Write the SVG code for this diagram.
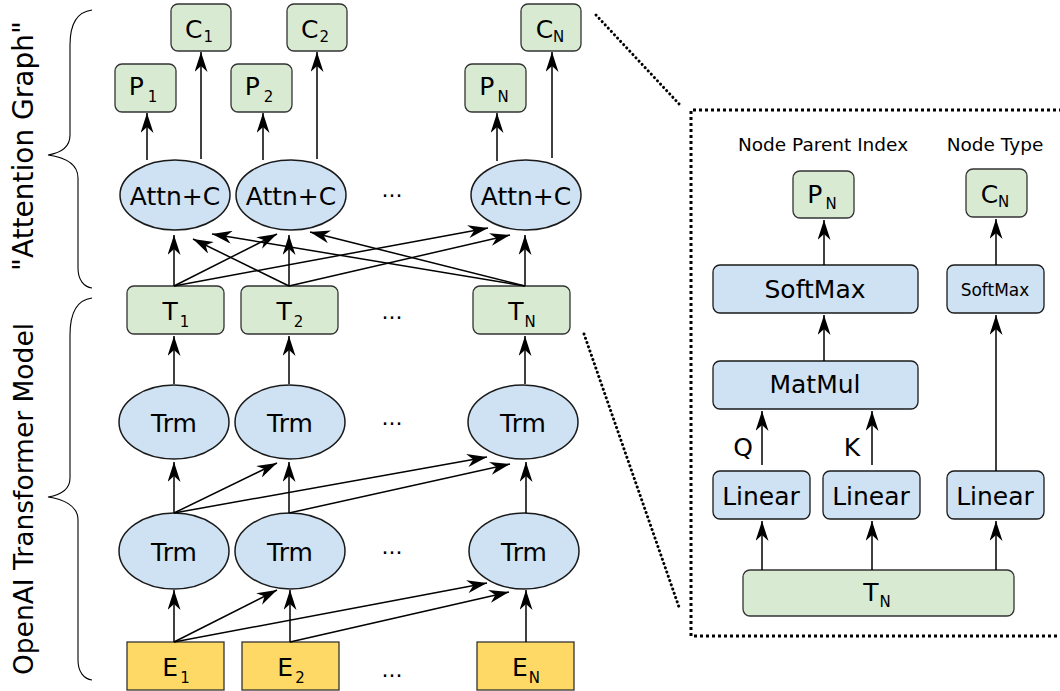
<svg xmlns="http://www.w3.org/2000/svg" width="1060" height="691" viewBox="0 0 1060 691">
<style>
.g{fill:#d9ead3;stroke:#333;stroke-width:1.3}
.b{fill:#cfe2f3;stroke:#1a1a1a;stroke-width:1.5}
.y{fill:#ffd966;stroke:#333;stroke-width:1.3}
.t{font-family:"DejaVu Sans",sans-serif;font-size:25px;fill:#000;text-anchor:middle}
.s{font-size:15px}
.h{font-size:18.5px}
.sm{font-size:17px}
.c line{stroke:#000;stroke-width:1.5;fill:none;marker-end:url(#ah)}
.br{fill:none;stroke:#000;stroke-width:1.1}
.dots{fill:none;stroke:#000;stroke-width:3;stroke-dasharray:0.1 4.4;stroke-linecap:round}
</style>
<defs>
<marker id="ah" markerUnits="userSpaceOnUse" viewBox="0 0 20 13" markerWidth="20" markerHeight="13" refX="20" refY="6.5" orient="auto">
<path d="M0,0 L20,6.5 L0,13 L6,6.5 Z" fill="#000"/>
</marker>
</defs>
<rect width="1060" height="691" fill="#fff"/>

<!-- braces and side labels -->
<g id="brace-attention">
<path class="br" d="M92,10 C76,12 70,25 70,45 L70,135 C70,148 60,153 48,155 C62,157 78,162 78,178 L78,268 C78,280 84,287 92,288"/>
<text class="t" style="font-size:28px" transform="translate(33,146) rotate(-90)">"Attention Graph"</text>
</g>
<g id="brace-openai">
<path class="br" d="M92,298 C76,300 70,315 70,335 L70,478 C70,490 60,495 48,497 C62,499 78,505 78,520 L78,660 C78,672 84,679 92,680"/>
<text class="t" style="font-size:26.5px" transform="translate(33,499) rotate(-90)">OpenAI Transformer Model</text>
</g>

<!-- outputs -->
<g id="C1"><rect class="g" x="171" y="4" width="60" height="47" rx="7"/><text class="t" x="199" y="38">C<tspan class="s" dx="1" dy="4">1</tspan></text></g>
<g id="C2"><rect class="g" x="287" y="4" width="60" height="47" rx="7"/><text class="t" x="315" y="38">C<tspan class="s" dx="1" dy="4">2</tspan></text></g>
<g id="CN"><rect class="g" x="521" y="4" width="60" height="47" rx="7"/><text class="t" x="550" y="38">C<tspan class="s" dx="0" dy="4">N</tspan></text></g>
<g id="P1"><rect class="g" x="115" y="64" width="61" height="48" rx="7"/><text class="t" x="143" y="95">P<tspan class="s" dx="4" dy="7">1</tspan></text></g>
<g id="P2"><rect class="g" x="231" y="64" width="61" height="48" rx="7"/><text class="t" x="259" y="95">P<tspan class="s" dx="4" dy="7">2</tspan></text></g>
<g id="PN"><rect class="g" x="465" y="64" width="61" height="48" rx="7"/><text class="t" x="494" y="95">P<tspan class="s" dx="3" dy="7">N</tspan></text></g>

<!-- Attn+C -->
<g id="attn1"><ellipse class="b" cx="175" cy="195" rx="55" ry="35"/><text class="t" x="175" y="205">Attn+C</text></g>
<g id="attn2"><ellipse class="b" cx="291" cy="195" rx="55" ry="35"/><text class="t" x="291" y="205">Attn+C</text></g>
<g id="attnN"><ellipse class="b" cx="526" cy="195" rx="55" ry="35"/><text class="t" x="526" y="205">Attn+C</text></g>

<!-- T -->
<g id="T1"><rect class="g" x="127" y="286" width="97" height="48" rx="7"/><text class="t" x="176" y="320">T<tspan class="s" dx="2" dy="7">1</tspan></text></g>
<g id="T2"><rect class="g" x="241" y="286" width="97" height="48" rx="7"/><text class="t" x="290" y="320">T<tspan class="s" dx="2" dy="7">2</tspan></text></g>
<g id="TN"><rect class="g" x="473" y="286" width="97" height="48" rx="7"/><text class="t" x="522" y="320">T<tspan class="s" dx="1" dy="7">N</tspan></text></g>

<!-- Trm upper -->
<g id="trmU1"><ellipse class="b" cx="174" cy="422" rx="55" ry="37"/><text class="t" x="174" y="432">Trm</text></g>
<g id="trmU2"><ellipse class="b" cx="290" cy="422" rx="55" ry="37"/><text class="t" x="290" y="432">Trm</text></g>
<g id="trmUN"><ellipse class="b" cx="523" cy="422" rx="55" ry="37"/><text class="t" x="523" y="432">Trm</text></g>

<!-- Trm lower -->
<g id="trmL1"><ellipse class="b" cx="174" cy="551" rx="55" ry="38"/><text class="t" x="174" y="561">Trm</text></g>
<g id="trmL2"><ellipse class="b" cx="290" cy="551" rx="55" ry="38"/><text class="t" x="290" y="561">Trm</text></g>
<g id="trmLN"><ellipse class="b" cx="524" cy="551" rx="55" ry="38"/><text class="t" x="524" y="561">Trm</text></g>

<!-- E -->
<g id="E1"><rect class="y" x="127" y="642" width="97" height="48"/><text class="t" x="176" y="676">E<tspan class="s" dx="2" dy="7">1</tspan></text></g>
<g id="E2"><rect class="y" x="242" y="642" width="97" height="48"/><text class="t" x="291" y="676">E<tspan class="s" dx="2" dy="7">2</tspan></text></g>
<g id="EN"><rect class="y" x="477" y="642" width="97" height="48"/><text class="t" x="526" y="676">E<tspan class="s" dx="1" dy="7">N</tspan></text></g>

<!-- ellipses dots -->
<g id="dots" class="t" style="font-size:22px">
<text x="392" y="197">...</text>
<text x="392" y="319">...</text>
<text x="392" y="425">...</text>
<text x="392" y="554">...</text>
<text x="392" y="677">...</text>
</g>

<!-- zoom guide lines and panel -->
<g id="zoom-frame">
<line class="dots" x1="596" y1="15" x2="681" y2="106"/>
<line class="dots" x1="584" y1="334" x2="680" y2="610"/>
<path d="M1062,110 L691,110 L691,636 L1062,636" fill="none" stroke="#000" stroke-width="3" stroke-dasharray="3 3"/>
</g>

<!-- right panel -->
<g id="lbl-parent"><text class="t h" x="823" y="151">Node Parent Index</text></g>
<g id="lbl-type"><text class="t h" x="995" y="151">Node Type</text></g>
<g id="rPN"><rect class="g" x="793" y="171" width="61" height="47" rx="7"/><text class="t" x="822" y="203">P<tspan class="s" dx="3" dy="6">N</tspan></text></g>
<g id="rCN"><rect class="g" x="966" y="169" width="61" height="48" rx="7"/><text class="t" x="995" y="203">C<tspan class="s" dx="0" dy="4">N</tspan></text></g>
<g id="softmax1"><rect class="b" x="713" y="265" width="205" height="48" rx="7" style="stroke-width:1.3"/><text class="t" x="815" y="298">SoftMax</text></g>
<g id="softmax2"><rect class="b" x="947" y="265" width="97" height="48" rx="7" style="stroke-width:1.3"/><text class="t sm" x="995" y="296">SoftMax</text></g>
<g id="matmul"><rect class="b" x="713" y="361" width="205" height="48" rx="7" style="stroke-width:1.3"/><text class="t" x="815" y="393">MatMul</text></g>
<g id="linQ"><rect class="b" x="713" y="471" width="97" height="48" rx="7" style="stroke-width:1.3"/><text class="t" x="761" y="505">Linear</text></g>
<g id="linK"><rect class="b" x="823" y="471" width="97" height="48" rx="7" style="stroke-width:1.3"/><text class="t" x="871" y="505">Linear</text></g>
<g id="linC"><rect class="b" x="947" y="471" width="97" height="48" rx="7" style="stroke-width:1.3"/><text class="t" x="995" y="505">Linear</text></g>
<g id="rTN"><rect class="g" x="743" y="570" width="271" height="46" rx="7"/><text class="t" x="877" y="601">T<tspan class="s" dx="1" dy="6">N</tspan></text></g>
<g id="lblQ"><text class="t" x="743" y="456">Q</text></g>
<g id="lblK"><text class="t" x="852" y="456">K</text></g>

<!-- connectors -->
<g id="connectors" class="c">
<line x1="147" y1="160" x2="147" y2="113"/>
<line x1="201" y1="159" x2="201" y2="52"/>
<line x1="263" y1="160" x2="263" y2="113"/>
<line x1="317" y1="159" x2="317" y2="52"/>
<line x1="497" y1="161" x2="497" y2="113"/>
<line x1="552" y1="158" x2="552" y2="52"/>

<line x1="174" y1="286" x2="174" y2="235"/>
<line x1="174" y1="286" x2="277" y2="234"/>
<line x1="174" y1="286" x2="488" y2="228"/>
<line x1="289" y1="286" x2="289" y2="235"/>
<line x1="289" y1="286" x2="193" y2="239"/>
<line x1="289" y1="286" x2="510" y2="235"/>
<line x1="525" y1="286" x2="525" y2="235"/>
<line x1="525" y1="286" x2="212" y2="234"/>
<line x1="525" y1="286" x2="310" y2="232"/>

<line x1="174" y1="384" x2="174" y2="336"/>
<line x1="289" y1="384" x2="289" y2="336"/>
<line x1="525" y1="384" x2="525" y2="336"/>

<line x1="174" y1="513" x2="174" y2="462"/>
<line x1="174" y1="513" x2="277" y2="463"/>
<line x1="174" y1="513" x2="487" y2="457"/>
<line x1="289" y1="513" x2="289" y2="462"/>
<line x1="289" y1="513" x2="510" y2="464"/>
<line x1="526" y1="513" x2="526" y2="462"/>

<line x1="174" y1="642" x2="174" y2="590"/>
<line x1="174" y1="642" x2="277" y2="590"/>
<line x1="174" y1="642" x2="487" y2="583"/>
<line x1="290" y1="642" x2="290" y2="590"/>
<line x1="290" y1="642" x2="509" y2="592"/>
<line x1="526" y1="642" x2="526" y2="590"/>

<line x1="824" y1="265" x2="824" y2="220"/>
<line x1="996" y1="265" x2="996" y2="219"/>
<line x1="824" y1="361" x2="824" y2="315"/>
<line x1="762" y1="465" x2="762" y2="411"/>
<line x1="872" y1="465" x2="872" y2="411"/>
<line x1="996" y1="471" x2="996" y2="315"/>
<line x1="762" y1="570" x2="762" y2="521"/>
<line x1="872" y1="570" x2="872" y2="521"/>
<line x1="996" y1="570" x2="996" y2="521"/>
</g>
</svg>
